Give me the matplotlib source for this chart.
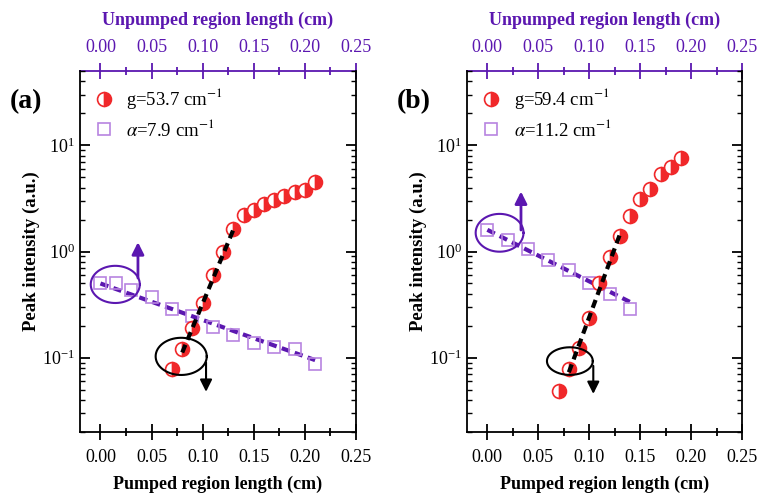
import numpy as np
import matplotlib
matplotlib.use('Agg')
import matplotlib.pyplot as plt

plt.rcParams['font.family'] = ['Liberation Serif', 'DejaVu Serif']
plt.rcParams['mathtext.fontset'] = 'stix'

RED = '#f0282a'
SQ = '#b784e0'
PURPLE = '#5b17b0'

# panel (a)
a_gain_x = [0.07, 0.08, 0.09, 0.10, 0.11, 0.12, 0.13, 0.14, 0.15, 0.16, 0.17, 0.18, 0.19, 0.20, 0.21]
a_gain_y = [0.078, 0.12, 0.19, 0.33, 0.60, 1.0, 1.62, 2.22, 2.47, 2.79, 3.04, 3.34, 3.66, 3.77, 4.5]
a_loss_x = [0.0, 0.015, 0.03, 0.05, 0.07, 0.09, 0.11, 0.13, 0.15, 0.17, 0.19, 0.21]
a_loss_y = [0.51, 0.50, 0.43, 0.37, 0.285, 0.247, 0.196, 0.162, 0.139, 0.125, 0.121, 0.088]
a_gfit_x = [0.08, 0.13]
a_gfit_y = [0.112, 1.6]
a_lfit_x = [0.0, 0.21]
a_lfit_y = [0.50, 0.095]

# panel (b)
b_gain_x = [0.07, 0.08, 0.09, 0.10, 0.11, 0.12, 0.13, 0.14, 0.15, 0.16, 0.17, 0.18, 0.19]
b_gain_y = [0.049, 0.078, 0.124, 0.237, 0.50, 0.89, 1.39, 2.14, 3.1, 3.85, 5.4, 6.27, 7.6]
b_loss_x = [0.0, 0.02, 0.04, 0.06, 0.08, 0.10, 0.12, 0.14]
b_loss_y = [1.6, 1.27, 1.06, 0.84, 0.67, 0.51, 0.40, 0.29]
b_gfit_x = [0.08, 0.13]
b_gfit_y = [0.073, 1.44]
b_lfit_x = [0.0, 0.14]
b_lfit_y = [1.6, 0.335]

panels = [
    dict(ax=[80/758, 62/494, 276/758, 361/494], tag='(a)', tagx=10/758,
         gx=a_gain_x, gy=a_gain_y, lx=a_loss_x, ly=a_loss_y,
         gfx=a_gfit_x, gfy=a_gfit_y, lfx=a_lfit_x, lfy=a_lfit_y,
         glab='g=53.7 cm$^{-1}$', llab=r'$\alpha$=7.9 cm$^{-1}$',
         pell=(0.0145, 0.49, 0.024, 0.175), parr=(0.0367, 0.53, 1.3),
         bell=(0.079, 0.103, 0.025, 0.175), barr=(0.1033, 0.096, 0.045)),
    dict(ax=[467/758, 62/494, 275/758, 361/494], tag='(b)', tagx=397/758,
         gx=b_gain_x, gy=b_gain_y, lx=b_loss_x, ly=b_loss_y,
         gfx=b_gfit_x, gfy=b_gfit_y, lfx=b_lfit_x, lfy=b_lfit_y,
         glab='g=59.4 cm$^{-1}$', llab=r'$\alpha$=11.2 cm$^{-1}$',
         pell=(0.012, 1.5, 0.0235, 0.178), parr=(0.033, 1.5, 3.9),
         bell=(0.081, 0.093, 0.0225, 0.13), barr=(0.104, 0.089, 0.043)),
]

fig = plt.figure(figsize=(7.58, 4.94), dpi=100)

for p in panels:
    ax = fig.add_axes(p['ax'])
    ax.set_yscale('log')
    ax.set_xlim(-0.02, 0.25)
    ax.set_ylim(0.02, 50)

    ax.plot(p['lfx'], p['lfy'], ls=(0, (2.0, 1.3)), color=PURPLE, lw=3, zorder=2)
    ax.plot(p['gfx'], p['gfy'], ls=(0, (2.0, 1.3)), color='black', lw=3, zorder=4)
    ax.plot(p['lx'], p['ly'], 's', ms=9, mfc='none', mec=SQ, mew=1.2, zorder=3, label=p['llab'])
    ax.plot(p['gx'], p['gy'], 'o', ms=10, fillstyle='right', mfc=RED, mfcalt='white',
            mec=RED, mew=1.2, zorder=3, label=p['glab'])

    t = np.linspace(0, 2 * np.pi, 200)
    cx, cy, rx, ry = p['pell']
    ax.plot(cx + rx * np.cos(t), 10 ** (np.log10(cy) + ry * np.sin(t)), color=PURPLE, lw=1.5, zorder=5)
    x0, y0, y1 = p['parr']
    ax.annotate('', xy=(x0, y1), xytext=(x0, y0),
                arrowprops=dict(arrowstyle='-|>', color=PURPLE, lw=2, mutation_scale=18), zorder=5)
    cx, cy, rx, ry = p['bell']
    ax.plot(cx + rx * np.cos(t), 10 ** (np.log10(cy) + ry * np.sin(t)), color='black', lw=1.5, zorder=5)
    x0, y0, y1 = p['barr']
    ax.annotate('', xy=(x0, y1), xytext=(x0, y0),
                arrowprops=dict(arrowstyle='-|>', color='black', lw=1.5, mutation_scale=18), zorder=5)

    h, l = ax.get_legend_handles_labels()
    ax.legend(h[::-1], l[::-1], loc='upper left', frameon=False, fontsize=13.5,
              bbox_to_anchor=(-0.015, 1.005), handletextpad=0.6, labelspacing=0.4, handlelength=1.2)

    ax.set_xticks([0.0, 0.05, 0.10, 0.15, 0.20, 0.25])
    ax.set_xticklabels(['0.00', '0.05', '0.10', '0.15', '0.20', '0.25'])
    ax.set_xticks(np.arange(0.025, 0.25, 0.05), minor=True)
    ax.tick_params(axis='x', which='major', direction='inout', length=12, width=1.3, labelsize=13, pad=6)
    ax.tick_params(axis='x', which='minor', direction='inout', length=6, width=1.3)
    ax.tick_params(axis='y', which='major', direction='in', length=7, width=1.3, labelsize=13, right=True)
    ax.tick_params(axis='y', which='minor', direction='in', length=3.5, width=1.0, right=True)
    ax.set_yticks([0.1, 1, 10])
    for s in ax.spines.values():
        s.set_linewidth(1.3)
    ax.set_xlabel('Pumped region length (cm)', fontsize=13, fontweight='bold', labelpad=7)
    ax.set_ylabel('Peak intensity (a.u.)', fontsize=13.5, fontweight='bold', labelpad=2)

    top = ax.secondary_xaxis('top')
    top.set_xticks([0.0, 0.05, 0.10, 0.15, 0.20, 0.25])
    top.set_xticklabels(['0.00', '0.05', '0.10', '0.15', '0.20', '0.25'])
    top.set_xticks(np.arange(0.025, 0.25, 0.05), minor=True)
    top.tick_params(axis='x', which='major', direction='inout', length=12, width=1.3,
                    labelsize=13, colors=PURPLE, pad=5)
    top.tick_params(axis='x', which='minor', direction='inout', length=6, width=1.3, colors=PURPLE)
    top.spines['top'].set_color(PURPLE)
    top.spines['top'].set_linewidth(1.3)
    ax.spines['top'].set_visible(False)
    top.set_xlabel('Unpumped region length (cm)', fontsize=13, fontweight='bold', color=PURPLE, labelpad=10)

    fig.text(p['tagx'], 0.795, p['tag'], fontsize=20, fontweight='bold', va='center')

fig.savefig('out.png', dpi=100)
